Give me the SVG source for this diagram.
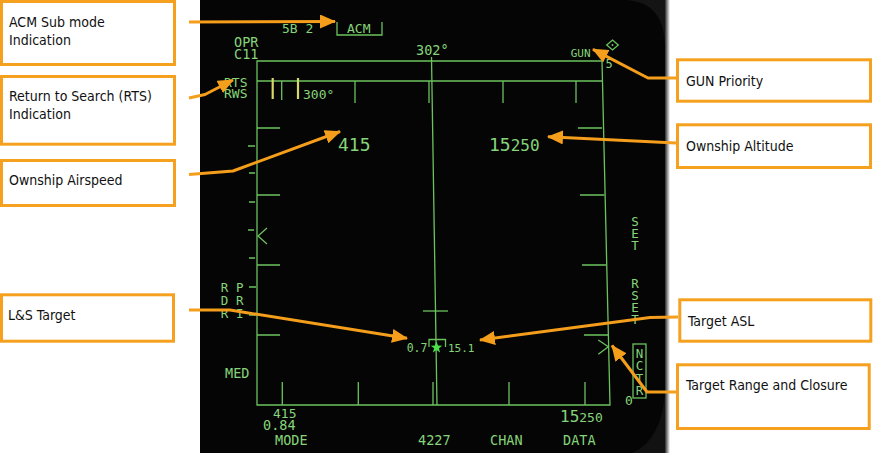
<svg xmlns="http://www.w3.org/2000/svg" width="873" height="453" viewBox="0 0 873 453">
<defs>
<style>
.box{fill:#fff;stroke:#f5a01e;stroke-width:3}
.lbl{font-family:"DejaVu Sans Condensed","DejaVu Sans",sans-serif;font-stretch:condensed;font-size:14px;fill:#111}
.g{fill:none;stroke:#6cc35e;stroke-width:1.3}
.y{fill:none;stroke:#d8d86a;stroke-width:2.2}
.t{font-family:"DejaVu Sans Mono",monospace;fill:#86d47a}
.v{font-family:"DejaVu Sans Mono",monospace;fill:#86d47a;font-size:12.5px;text-anchor:middle}
.arr{fill:none;stroke:#f59e1b;stroke-width:3;stroke-linejoin:round;marker-end:url(#ah)}
</style>
<marker id="ah" markerUnits="userSpaceOnUse" viewBox="0 0 16 14" refX="15" refY="7" markerWidth="16" markerHeight="14" orient="auto">
<path d="M0,0 L16,7 L0,14 Z" fill="#f59e1b"/>
</marker>
<linearGradient id="edge" x1="0" y1="0" x2="1" y2="0">
<stop offset="0" stop-color="#2a2a2a"/>
<stop offset="1" stop-color="#ffffff"/>
</linearGradient>
</defs>
<rect width="873" height="453" fill="#fff"/>

<g id="display">
<rect x="200" y="0" width="465" height="453" fill="#050505"/>
<rect x="665" y="0" width="5" height="453" fill="url(#edge)"/>
<path d="M626,0 Q665,2 665,48 L665,0 Z" fill="#141414"/>
<path d="M665,392 Q662,440 632,453 L665,453 Z" fill="#121212"/>

<path class="g" d="M257,61 H602 L610,405 H257 Z"/>
<path class="g" d="M257,81 H602.5"/>
<path class="g" d="M431.5,57 L437,405"/>
<path class="g" d="M281.7,81 V100 M355,81 V103 M429,81 V103 M503,81 V103 M576,81 V103"/>
<path class="y" d="M272.7,78 V99 M298,78 V99"/>
<path class="g" d="M282.3,382 V405 M358.3,382 V405 M433,382 V405 M509,382 V405 M585,382 V405"/>
<path class="g" d="M257,128 H280 M257,195 H280 M257,265 H280 M257,335 H280"/>
<path class="g" d="M578,128 H602 M580,195 H604.5 M582,265 H606 M584,335 H608"/>
<path class="g" d="M248,146 H255 M249,173 H255 M249,202 H255 M248,230 H254 M249,258 H255 M249,287 H256 M249,315 H256"/>
<path class="g" d="M267,228 L258,236 L267,244"/>
<path class="g" d="M598.3,340 L608.3,346.7 L598.3,354.3"/>
<path class="g" d="M337,22 V35 H382 V22"/>
<path class="g" d="M423,311 H448"/>
<path class="g" d="M429,347 V339.5 H445.5 V347"/>
<path d="M436.5,341.5 L438,345.6 L442.3,345.7 L438.9,348.3 L440.1,352.5 L436.5,350 L432.9,352.5 L434.1,348.3 L430.7,345.7 L435,345.6 Z" fill="#4be04b"/>
<path class="g" d="M612.5,40 L618.3,45 L612.5,50 L606.7,45 Z"/>
<circle cx="612.5" cy="45" r="0.9" fill="#86d47a"/>
<rect class="g" x="633" y="344" width="13" height="54"/>

<text class="t" x="282" y="33" font-size="13">5B 2</text>
<text class="t" x="347" y="33" font-size="13">ACM</text>
<text class="t" x="234" y="47" font-size="13.5">OPR</text>
<text class="t" x="234" y="58.5" font-size="13.5">C11</text>
<text class="t" x="224" y="86.5" font-size="13">RTS</text>
<text class="t" x="224" y="98" font-size="13">RWS</text>
<text class="t" x="416" y="55" font-size="13.5">302°</text>
<text class="t" x="570.7" y="57" font-size="11">GUN</text>
<text class="t" x="605.5" y="67.5" font-size="12">5</text>
<text class="t" x="303" y="99" font-size="13">300°</text>
<text class="t" x="338" y="151" font-size="18">415</text>
<text class="t" x="489" y="151" font-size="18">15<tspan font-size="16">250</tspan></text>
<text class="v" x="635" y="226">S</text>
<text class="v" x="635" y="238">E</text>
<text class="v" x="635" y="250">T</text>
<text class="v" x="635" y="288">R</text>
<text class="v" x="635" y="300">S</text>
<text class="v" x="635" y="312">E</text>
<text class="v" x="635" y="324">T</text>
<text class="v" x="639.5" y="358">N</text>
<text class="v" x="639.5" y="370">C</text>
<text class="v" x="639.5" y="382.5">T</text>
<text class="v" x="639.5" y="395">R</text>
<text class="t" x="625" y="405" font-size="13">0</text>
<text class="t" x="220.7" y="292" font-size="12.5">R</text>
<text class="t" x="236" y="292" font-size="12.5">P</text>
<text class="t" x="220.7" y="305" font-size="12.5">D</text>
<text class="t" x="236" y="305" font-size="12.5">R</text>
<text class="t" x="220.7" y="318" font-size="12.5">R</text>
<text class="t" x="236" y="318" font-size="12.5">I</text>
<text class="t" x="225" y="378" font-size="13.5">MED</text>
<text class="t" x="406.7" y="351.5" font-size="11.5">0.7</text>
<text class="t" x="448" y="351.5" font-size="11">15.1</text>
<text class="t" x="273" y="418" font-size="13">415</text>
<text class="t" x="263" y="430" font-size="13.5">0.84</text>
<text class="t" x="275" y="445" font-size="13.5">MODE</text>
<text class="t" x="418" y="445" font-size="13.5">4227</text>
<text class="t" x="490" y="445" font-size="13.5">CHAN</text>
<text class="t" x="563" y="445" font-size="13.5">DATA</text>
<text class="t" x="560" y="421.7" font-size="16">15<tspan font-size="13">250</tspan></text>
</g>

<g id="n-acm"><rect class="box" x="1.5" y="1.5" width="173" height="63"/><text class="lbl" x="9" y="27">ACM Sub mode</text><text class="lbl" x="9" y="44.5">Indication</text></g>
<g id="n-rts"><rect class="box" x="1.5" y="76.5" width="173" height="67.7"/><text class="lbl" x="9" y="100.5">Return to Search (RTS)</text><text class="lbl" x="9" y="118.5">Indication</text></g>
<g id="n-airspeed"><rect class="box" x="1.5" y="160.5" width="173" height="45"/><text class="lbl" x="9" y="184.5">Ownship Airspeed</text></g>
<g id="n-ls"><rect class="box" x="1.5" y="294.8" width="172" height="46.4"/><text class="lbl" x="8" y="319.5">L&amp;S Target</text></g>
<g id="n-gun"><rect class="box" x="677.5" y="59.8" width="193" height="41.4"/><text class="lbl" x="686" y="85.5">GUN Priority</text></g>
<g id="n-alt"><rect class="box" x="677.5" y="124.8" width="193" height="42.7"/><text class="lbl" x="686" y="151">Ownship Altitude</text></g>
<g id="n-asl"><rect class="box" x="679.8" y="299.8" width="191" height="41.4"/><text class="lbl" x="688" y="325.5">Target ASL</text></g>
<g id="n-range"><rect class="box" x="677.5" y="364.8" width="191.7" height="63.7"/><text class="lbl" x="686" y="389.5">Target Range and Closure</text></g>

<g id="connectors">
<path class="arr" d="M189,22 L335,21.5"/>
<path class="arr" d="M189,98 L205,94.5 L233,80"/>
<path class="arr" d="M189,174.5 L233,171 L340,131.5"/>
<path class="arr" d="M189,310 L230,310 L407,338.3"/>
<path class="arr" d="M676,78 L648,78 L593,49.3"/>
<path class="arr" d="M676,143 L548,136.7"/>
<path class="arr" d="M678,317 L650,317.5 L480,340"/>
<path class="arr" d="M676,392 L647,392 L612,345.5"/>
</g>
</svg>
